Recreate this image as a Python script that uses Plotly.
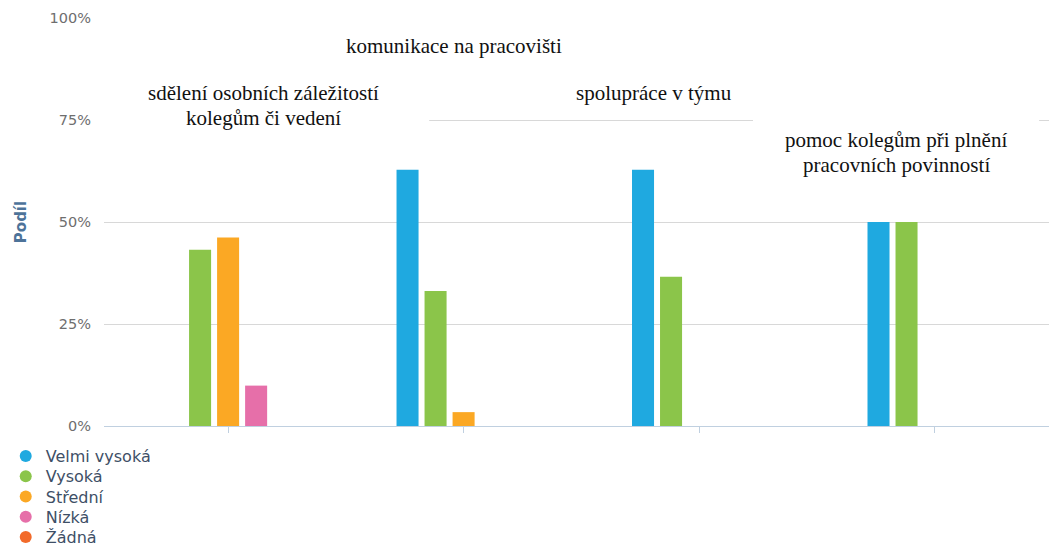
import plotly.graph_objects as go

# Category names, split into the lines they are printed on
category_lines = [
    ["sdělení osobních záležitostí", "kolegům či vedení"],
    ["komunikace na pracovišti"],
    ["spolupráce v týmu"],
    ["pomoc kolegům při plnění", "pracovních povinností"],
]
categories = [" ".join(lines) for lines in category_lines]

# Share of answers per rating level (percent)
series_names = ["Velmi vysoká", "Vysoká", "Střední", "Nízká", "Žádná"]
velmi_vysoka = [0, 62.8, 62.8, 50.0]
vysoka = [43.2, 33.1, 36.6, 50.0]
stredni = [46.2, 3.4, 0, 0]
nizka = [9.9, 0, 0, 0]
zadna = [0, 0, 0, 0]
series_values = [velmi_vysoka, vysoka, stredni, nizka, zadna]

y_ticks = [0, 25, 50, 75, 100]
y_tick_text = ["0%", "25%", "50%", "75%", "100%"]

colors = ["#1fa9e0", "#8bc54a", "#fba824", "#e66fa9", "#f26a2a"]

x_pos = list(range(len(categories)))

fig = go.Figure()
for name, vals, col in zip(series_names, series_values, colors):
    fig.add_trace(go.Bar(
        x=x_pos, y=vals, name=name, showlegend=False,
        marker=dict(color=col, line=dict(width=0)),
        hovertext=categories, hoverinfo="text+y+name",
    ))

# round legend keys, one compact legend box per row so rows sit tightly
legend_ids = ["legend"] + [f"legend{k}" for k in range(2, len(series_names) + 1)]
for name, col, lid in zip(series_names, colors, legend_ids):
    fig.add_trace(go.Scatter(
        x=[None], y=[None], mode="markers", name=name, legend=lid,
        marker=dict(symbol="circle", size=13, color=col),
    ))

row_top = -0.0735      # paper y of first legend row centre
row_step = 0.0497      # paper distance between rows
legend_layout = {}
for k, lid in enumerate(legend_ids):
    legend_layout[lid] = dict(
        x=-0.104, y=row_top - k * row_step, xanchor="left", yanchor="middle",
        orientation="v", bgcolor="rgba(0,0,0,0)",
        font=dict(family="DejaVu Sans", size=16, color="#3e4f66"),
        itemsizing="constant",
    )

# label layout: offset from category centre (axis units) and line centres (axis %)
label_dx = [0.149, -0.04, -0.19, -0.163]
label_y = [[81.7, 75.6], [93.1], [81.7], [70.0, 63.9]]

annotations = []
for i, lines in enumerate(category_lines):
    for line, yy in zip(lines, label_y[i]):
        annotations.append(dict(
            x=x_pos[i] + label_dx[i], y=yy, xref="x", yref="y",
            text=line, showarrow=False, xanchor="center", yanchor="middle",
            font=dict(family="Liberation Serif", size=21, color="#111111"),
        ))

# white plates behind the two-line labels
shapes = [
    dict(type="rect", xref="x", yref="y", x0=-0.56, x1=0.854, y0=71.3, y1=86.0,
         fillcolor="white", line=dict(width=0), layer="above"),
    dict(type="rect", xref="x", yref="y", x0=2.229, x1=3.444, y0=58.8, y1=76.0,
         fillcolor="white", line=dict(width=0), layer="above"),
]

fig.update_layout(
    width=1049, height=546,
    margin=dict(l=104, r=0, t=18, b=120, autoexpand=False),
    paper_bgcolor="white", plot_bgcolor="white",
    barmode="group", bargap=0.405, bargroupgap=0.214,
    font=dict(family="DejaVu Sans"),
    showlegend=True,
    annotations=annotations,
    shapes=shapes,
    xaxis=dict(
        range=[-0.527, 3.486], tickvals=x_pos, showticklabels=False,
        ticks="outside", ticklen=6, tickcolor="#c0d0e0", tickwidth=1,
        showline=True, linecolor="#c0d0e0", linewidth=1,
        showgrid=False, zeroline=False, fixedrange=True,
    ),
    yaxis=dict(
        range=[0, 100], tickvals=y_ticks, ticktext=y_tick_text,
        showgrid=True, gridcolor="#d8d8d8", gridwidth=1,
        zeroline=False, showline=False, ticks="",
        ticklabelstandoff=12,
        tickfont=dict(family="DejaVu Sans", size=14.5, color="#6e6e6e"),
        title=dict(text="<b>Podíl</b>", standoff=19,
                   font=dict(family="DejaVu Sans", size=15, color="#4d7399")),
        fixedrange=True,
    ),
    **legend_layout,
)

fig.write_html("out.html")
